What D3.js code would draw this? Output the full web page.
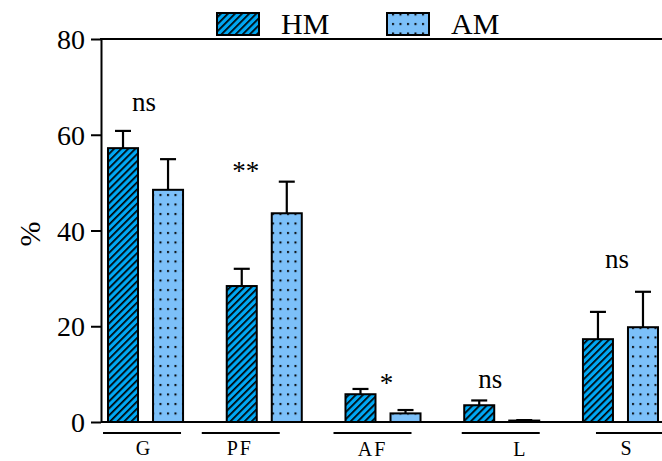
<!DOCTYPE html>
<html><head><meta charset="utf-8">
<script src="https://cdn.jsdelivr.net/npm/d3@7/dist/d3.min.js"></script>
<style>body{margin:0;background:#fff}svg{display:block}text{font-family:"Liberation Serif","Times New Roman",serif;fill:#000}</style>
</head><body><svg id="c" width="662" height="461"></svg>
<script>
const categories = ["G", "PF", "AF", "L", "S"];
const seriesNames = ["HM", "AM"];
const hmMean = [57.2, 28.4, 5.8, 3.5, 17.3];
const hmErr  = [3.6, 3.6, 1.1, 1.0, 5.7];
const amMean = [48.5, 43.6, 1.8, 0.3, 19.8];
const amErr  = [6.4, 6.6, 0.7, 0.1, 7.4];
const yTicks = [0, 20, 40, 60, 80];
const annotText = ["ns", "**", "*", "ns", "ns"];
const annotValue = [65.0, 50.6, 6.3, 7.1, 32.2];

// layout constants (styling, not data)
const annotDx = [-1.5, -18.5, 3.5, -11.5, -3.5];
const lineDx = [-3.5, -23.5, -10.5, -1, 14.5];
const labelDx = [-2.5, -24.5, -10.5, 17.5, 5.5];
const labelY = [455, 455, 456, 456, 455];

const svg = d3.select("#c");
const mLeft = 101, mTop = 39, mBottom = 422;
const y = d3.scaleLinear().domain([0, 80]).range([mBottom, mTop]);
const x = d3.scaleBand().domain(categories).range([mLeft, 665]).paddingInner(0.368).paddingOuter(0.059);
const xs = d3.scaleBand().domain(seriesNames).range([0, x.bandwidth()]).paddingInner(1/3).paddingOuter(0);

const defs = svg.append("defs");
const hatch = defs.append("pattern").attr("id", "hatch").attr("patternUnits", "userSpaceOnUse")
  .attr("width", 5).attr("height", 10).attr("patternTransform", "rotate(45)");
hatch.append("rect").attr("width", 5).attr("height", 10).attr("fill", "#00a8f4");
hatch.append("rect").attr("width", 1.7).attr("height", 10).attr("fill", "#000");
const dots = defs.append("pattern").attr("id", "dots").attr("patternUnits", "userSpaceOnUse")
  .attr("width", 7.5).attr("height", 9.5).attr("x", 1).attr("y", 2);
dots.append("rect").attr("width", 7.5).attr("height", 9.5).attr("fill", "#7cc0f9");
dots.append("rect").attr("x", 1).attr("y", 2).attr("width", 2).attr("height", 2).attr("fill", "#000");
const fills = {HM: "url(#hatch)", AM: "url(#dots)"};

const rows = [];
categories.forEach((c, i) => {
  rows.push({c, s: "HM", v: hmMean[i], e: hmErr[i]});
  rows.push({c, s: "AM", v: amMean[i], e: amErr[i]});
});

// bars
const g = svg.append("g");
g.selectAll("rect.bar").data(rows).join("rect").attr("class", "bar")
  .attr("x", d => x(d.c) + xs(d.s)).attr("width", xs.bandwidth())
  .attr("y", d => y(d.v)).attr("height", d => y(0) - y(d.v))
  .attr("fill", d => fills[d.s]).attr("stroke", "#000").attr("stroke-width", 2);

// error bars
const eb = g.selectAll("g.err").data(rows).join("g").attr("class", "err")
  .attr("stroke", "#000").attr("stroke-width", 2.2);
eb.append("line").attr("x1", d => x(d.c) + xs(d.s) + xs.bandwidth()/2).attr("x2", d => x(d.c) + xs(d.s) + xs.bandwidth()/2)
  .attr("y1", d => y(d.v)).attr("y2", d => y(d.v + d.e));
eb.append("line").attr("x1", d => x(d.c) + xs(d.s) + xs.bandwidth()/2 - 8).attr("x2", d => x(d.c) + xs(d.s) + xs.bandwidth()/2 + 8)
  .attr("y1", d => y(d.v + d.e)).attr("y2", d => y(d.v + d.e));

// axes
const ya = svg.append("g").attr("transform", `translate(${mLeft},0)`)
  .call(d3.axisLeft(y).tickValues(yTicks).tickSize(10).tickSizeOuter(0).tickPadding(6));
ya.attr("font-family", null);
ya.select(".domain").attr("stroke-width", 2);
ya.selectAll(".tick line").attr("stroke-width", 2);
ya.selectAll(".tick text").attr("font-size", 28).attr("dy", "0.34em");

svg.append("line").attr("x1", mLeft).attr("x2", 662).attr("y1", y(0)).attr("y2", y(0)).attr("stroke", "#000").attr("stroke-width", 2);
svg.append("line").attr("x1", mLeft - 1).attr("x2", 662).attr("y1", y(80)).attr("y2", y(80)).attr("stroke", "#000").attr("stroke-width", 2);

svg.append("text").attr("transform", "translate(40,234) rotate(-90)").attr("text-anchor", "middle")
  .attr("font-size", 30).text("%");

// category underlines and labels
categories.forEach((c, i) => {
  const cx = x(c) + x.bandwidth()/2;
  svg.append("line").attr("x1", cx + lineDx[i] - 39).attr("x2", cx + lineDx[i] + 39)
    .attr("y1", 433).attr("y2", 433).attr("stroke", "#000").attr("stroke-width", 2);
  svg.append("text").attr("x", cx + labelDx[i]).attr("y", labelY[i]).attr("text-anchor", "middle")
    .attr("font-size", 20).attr("letter-spacing", c.length > 1 ? 2 : 0).text(c);
  svg.append("text").attr("x", cx + annotDx[i]).attr("y", y(annotValue[i])).attr("text-anchor", "middle")
    .attr("font-size", 27).text(annotText[i]);
});

// legend
const legX = [217, 387];
seriesNames.forEach((s, i) => {
  svg.append("rect").attr("x", legX[i]).attr("y", 13).attr("width", 42).attr("height", 22)
    .attr("fill", fills[s]).attr("stroke", "#000").attr("stroke-width", 2);
  svg.append("text").attr("x", legX[i] + 64).attr("y", 34).attr("font-size", 30).text(s);
});
</script></body></html>
